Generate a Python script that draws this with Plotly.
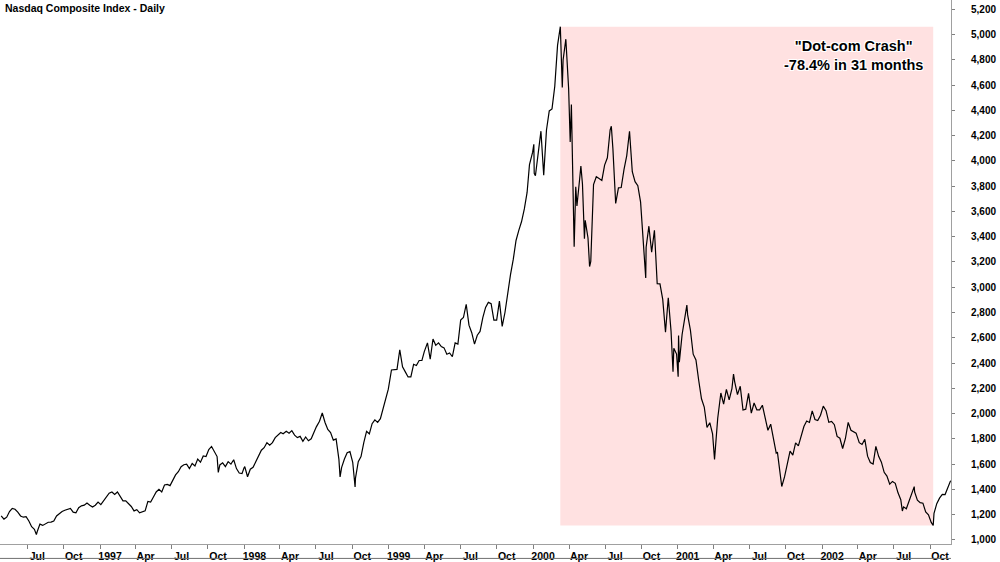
import plotly.graph_objects as go

# ---------------- data (weekly closes, plus key turning days) -------------
dates_1996 = ["1996-04-26","1996-05-03","1996-05-10","1996-05-17","1996-05-24","1996-05-31","1996-06-07","1996-06-14","1996-06-21","1996-06-28","1996-07-05","1996-07-12","1996-07-19","1996-07-24","1996-07-26","1996-08-02","1996-08-09","1996-08-16","1996-08-23","1996-08-30","1996-09-06","1996-09-13","1996-09-20","1996-09-27","1996-10-04","1996-10-11","1996-10-18","1996-10-25","1996-11-01","1996-11-08","1996-11-15","1996-11-22","1996-11-29","1996-12-06","1996-12-13","1996-12-20","1996-12-27"]
close_1996 = [1190,1165,1180,1225,1250,1243,1220,1190,1180,1185,1150,1105,1085,1042,1065,1125,1115,1130,1140,1141,1150,1190,1210,1225,1235,1240,1250,1220,1215,1255,1270,1275,1293,1275,1260,1275,1300]

dates_1997 = ["1997-01-03","1997-01-10","1997-01-17","1997-01-24","1997-01-31","1997-02-07","1997-02-14","1997-02-21","1997-02-28","1997-03-07","1997-03-14","1997-03-21","1997-03-28","1997-04-04","1997-04-11","1997-04-18","1997-04-25","1997-05-02","1997-05-09","1997-05-16","1997-05-23","1997-05-30","1997-06-06","1997-06-13","1997-06-20","1997-06-27","1997-07-03","1997-07-11","1997-07-18","1997-07-25","1997-08-01","1997-08-08","1997-08-15","1997-08-22","1997-08-29","1997-09-05","1997-09-12","1997-09-19","1997-09-26","1997-10-03","1997-10-10","1997-10-17","1997-10-24","1997-10-27","1997-10-31","1997-11-07","1997-11-14","1997-11-21","1997-11-28","1997-12-05","1997-12-12","1997-12-19","1997-12-26","1997-12-31"]
close_1997 = [1280,1310,1345,1370,1380,1360,1380,1340,1310,1310,1290,1265,1230,1240,1215,1225,1230,1305,1300,1340,1380,1400,1380,1435,1440,1430,1470,1515,1540,1580,1595,1600,1565,1605,1585,1640,1615,1665,1660,1715,1740,1700,1660,1535,1594,1610,1580,1620,1600,1635,1565,1530,1525,1570]

dates_1998 = ["1998-01-02","1998-01-09","1998-01-16","1998-01-23","1998-01-30","1998-02-06","1998-02-13","1998-02-20","1998-02-27","1998-03-06","1998-03-13","1998-03-20","1998-03-27","1998-04-03","1998-04-09","1998-04-17","1998-04-24","1998-05-01","1998-05-08","1998-05-15","1998-05-22","1998-05-29","1998-06-05","1998-06-12","1998-06-19","1998-06-26","1998-07-02","1998-07-10","1998-07-17","1998-07-24","1998-07-31","1998-08-07","1998-08-14","1998-08-21","1998-08-28","1998-08-31","1998-09-04","1998-09-11","1998-09-18","1998-09-25","1998-10-02","1998-10-08","1998-10-09","1998-10-16","1998-10-23","1998-10-30","1998-11-06","1998-11-13","1998-11-20","1998-11-27","1998-12-04","1998-12-11","1998-12-18","1998-12-24","1998-12-31"]
close_1998 = [1580,1500,1560,1575,1620,1665,1710,1730,1770,1750,1770,1810,1830,1850,1840,1860,1845,1865,1830,1810,1820,1780,1815,1785,1800,1860,1895,1940,2005,1930,1875,1850,1790,1800,1640,1499,1575,1640,1690,1700,1615,1419,1490,1620,1660,1770,1860,1840,1920,1950,1930,1960,2050,2120,2193]

dates_1999 = ["1999-01-08","1999-01-15","1999-01-22","1999-01-29","1999-02-05","1999-02-12","1999-02-19","1999-02-26","1999-03-05","1999-03-12","1999-03-19","1999-03-26","1999-04-01","1999-04-09","1999-04-16","1999-04-23","1999-04-30","1999-05-07","1999-05-14","1999-05-21","1999-05-28","1999-06-04","1999-06-11","1999-06-18","1999-06-25","1999-07-02","1999-07-09","1999-07-16","1999-07-23","1999-07-30","1999-08-06","1999-08-13","1999-08-20","1999-08-27","1999-09-03","1999-09-10","1999-09-17","1999-09-24","1999-10-01","1999-10-08","1999-10-15","1999-10-22","1999-10-29","1999-11-05","1999-11-12","1999-11-19","1999-11-26","1999-12-03","1999-12-10","1999-12-17","1999-12-23","1999-12-31"]
close_1999 = [2345,2350,2350,2505,2370,2330,2290,2290,2390,2380,2420,2420,2490,2560,2430,2590,2540,2560,2530,2520,2470,2480,2450,2560,2550,2740,2760,2865,2700,2640,2550,2620,2650,2760,2840,2880,2870,2740,2740,2890,2690,2800,2970,3100,3220,3370,3450,3520,3620,3750,3970,4069]

dates_2000 = ["2000-01-03","2000-01-04","2000-01-07","2000-01-14","2000-01-21","2000-01-28","2000-02-04","2000-02-11","2000-02-18","2000-02-25","2000-03-03","2000-03-10","2000-03-15","2000-03-17","2000-03-24","2000-03-31","2000-04-04","2000-04-07","2000-04-12","2000-04-14","2000-04-18","2000-04-21","2000-04-28","2000-05-01","2000-05-05","2000-05-10","2000-05-12","2000-05-19","2000-05-23","2000-05-26","2000-06-02","2000-06-09","2000-06-16","2000-06-23","2000-06-30","2000-07-07","2000-07-14","2000-07-17","2000-07-21","2000-07-28","2000-08-04","2000-08-11","2000-08-18","2000-08-25","2000-09-01","2000-09-08","2000-09-15","2000-09-22","2000-09-29","2000-10-06","2000-10-12","2000-10-13","2000-10-20","2000-10-27","2000-11-03","2000-11-10","2000-11-17","2000-11-24","2000-12-01","2000-12-08","2000-12-15","2000-12-20","2000-12-22","2000-12-29"]
close_2000 = [4131,3901,3882,4064,4235,3887,4244,4395,4411,4590,4914,5062,4580,4798,4963,4573,4149,4446,3769,3321,3794,3643,3860,3958,3817,3384,3529,3390,3164,3205,3813,3874,3860,3845,3966,4024,4246,4274,4095,3663,3787,3789,3930,4042,4234,3914,3835,3803,3673,3361,3074,3317,3483,3278,3451,3028,3027,2904,2645,2917,2653,2332,2517,2471]

dates_2001 = ["2001-01-02","2001-01-03","2001-01-05","2001-01-12","2001-01-19","2001-01-24","2001-01-26","2001-02-02","2001-02-09","2001-02-16","2001-02-23","2001-03-02","2001-03-09","2001-03-16","2001-03-23","2001-03-30","2001-04-04","2001-04-06","2001-04-12","2001-04-20","2001-04-27","2001-05-04","2001-05-11","2001-05-18","2001-05-22","2001-05-25","2001-06-01","2001-06-08","2001-06-15","2001-06-22","2001-06-29","2001-07-06","2001-07-13","2001-07-20","2001-07-27","2001-08-03","2001-08-10","2001-08-17","2001-08-24","2001-08-31","2001-09-07","2001-09-10","2001-09-21","2001-09-28","2001-10-05","2001-10-12","2001-10-19","2001-10-26","2001-11-02","2001-11-09","2001-11-16","2001-11-23","2001-11-30","2001-12-07","2001-12-14","2001-12-21","2001-12-28"]
close_2001 = [2291,2617,2407,2626,2770,2859,2781,2660,2470,2425,2262,2117,2052,1890,1928,1840,1638,1720,1961,2163,2075,2192,2108,2198,2313,2251,2150,2216,2028,2035,2160,2004,2084,2030,2029,2066,1957,1868,1916,1805,1687,1695,1423,1499,1605,1703,1671,1768,1745,1828,1898,1941,1930,2021,1953,1945,1987]

dates_2002 = ["2002-01-04","2002-01-11","2002-01-18","2002-01-25","2002-02-01","2002-02-08","2002-02-15","2002-02-22","2002-03-01","2002-03-08","2002-03-15","2002-03-22","2002-03-28","2002-04-05","2002-04-12","2002-04-19","2002-04-26","2002-05-03","2002-05-10","2002-05-17","2002-05-24","2002-05-31","2002-06-07","2002-06-14","2002-06-21","2002-06-28","2002-07-05","2002-07-12","2002-07-19","2002-07-23","2002-07-26","2002-08-02","2002-08-09","2002-08-16","2002-08-22","2002-08-23","2002-08-30","2002-09-06","2002-09-13","2002-09-20","2002-09-27","2002-10-04","2002-10-09","2002-10-11","2002-10-18","2002-10-25","2002-11-01","2002-11-08","2002-11-15","2002-11-22"]
close_2002 = [2059,2023,1931,1938,1912,1819,1805,1724,1803,1930,1868,1852,1845,1770,1756,1796,1663,1613,1600,1741,1662,1616,1535,1505,1441,1463,1448,1373,1319,1229,1262,1247,1306,1361,1422,1380,1315,1295,1291,1221,1199,1139,1114,1210,1287,1331,1360,1359,1411,1469]

tick_dates = ["1996-07-01","1996-10-01","1997-01-01","1997-04-01","1997-07-01","1997-10-01",
              "1998-01-01","1998-04-01","1998-07-01","1998-10-01","1999-01-01","1999-04-01",
              "1999-07-01","1999-10-01","2000-01-01","2000-04-01","2000-07-01","2000-10-01",
              "2001-01-01","2001-04-01","2001-07-01","2001-10-01","2002-01-01","2002-04-01",
              "2002-07-01","2002-10-01"]
tick_labels = ["Jul","Oct","1997","Apr","Jul","Oct","1998","Apr","Jul","Oct","1999","Apr",
               "Jul","Oct","2000","Apr","Jul","Oct","2001","Apr","Jul","Oct","2002","Apr",
               "Jul","Oct"]
y_ticks = list(range(1000, 5201, 200))

title_text = "Nasdaq Composite Index - Daily"
note_text = "\"Dot-com Crash\"<br>-78.4% in 31 months"

# ---------------- build -------------
dates = dates_1996 + dates_1997 + dates_1998 + dates_1999 + dates_2000 + dates_2001 + dates_2002
closes = close_1996 + close_1997 + close_1998 + close_1999 + close_2000 + close_2001 + close_2002

peak_i = max(range(len(closes)), key=lambda i: closes[i])
trough_i = min(range(peak_i, len(closes)), key=lambda i: closes[i])

FONT = "Liberation Sans, Arial, sans-serif"

fig = go.Figure()
fig.add_trace(go.Scatter(x=dates, y=closes, mode="lines",
                         line=dict(color="#000000", width=1.2), hoverinfo="skip"))

fig.add_shape(type="rect", xref="x", yref="y",
              x0=dates[peak_i], x1=dates[trough_i],
              y0=closes[trough_i], y1=closes[peak_i],
              fillcolor="#FFE1E1", line=dict(width=0), layer="below")

# bottom frame line under the date labels
fig.add_shape(type="line", xref="paper", yref="paper", x0=0, x1=1, y0=-0.0265, y1=-0.0265,
              line=dict(color="#707070", width=1))

fig.add_annotation(xref="paper", yref="paper", x=0.003, y=1.0, xanchor="left", yanchor="top",
                   text=title_text, showarrow=False,
                   font=dict(family=FONT, size=10.5, color="#000000", weight="bold"))

halo = "1px 1px 0 #fff, -1px -1px 0 #fff, 1px -1px 0 #fff, -1px 1px 0 #fff, 0 0 2px #fff"
fig.add_annotation(xref="paper", yref="paper", x=0.897, y=0.898, xanchor="center", yanchor="middle",
                   text=note_text, showarrow=False, align="center",
                   font=dict(family=FONT, size=14.5, color="#000000", weight="bold", shadow=halo))

fig.update_layout(
    width=1000, height=562,
    margin=dict(l=0, r=49, t=0, b=15),
    paper_bgcolor="white", plot_bgcolor="white",
    showlegend=False,
    xaxis=dict(type="date", range=["1996-04-23", "2002-11-23"],
               tickvals=tick_dates, ticktext=tick_labels,
               ticks="outside", ticklen=4, tickcolor="#808080",
               showline=True, linecolor="#A0A0A0", linewidth=1,
               showgrid=False, zeroline=False,
               tickfont=dict(family=FONT, size=10.5, color="#000000", weight="bold"),
               ticklabelshift=10, ticklabelstandoff=-2),
    yaxis=dict(side="right", range=[968, 5273],
               tickvals=y_ticks, tickformat=",",
               ticks="outside", ticklen=3, tickcolor="#808080",
               showline=True, linecolor="#A0A0A0", linewidth=1,
               showgrid=False, zeroline=False,
               tickfont=dict(family=FONT, size=10, color="#000000", weight="bold"),
               ticklabelstandoff=14),
)

fig.write_html("out.html")
